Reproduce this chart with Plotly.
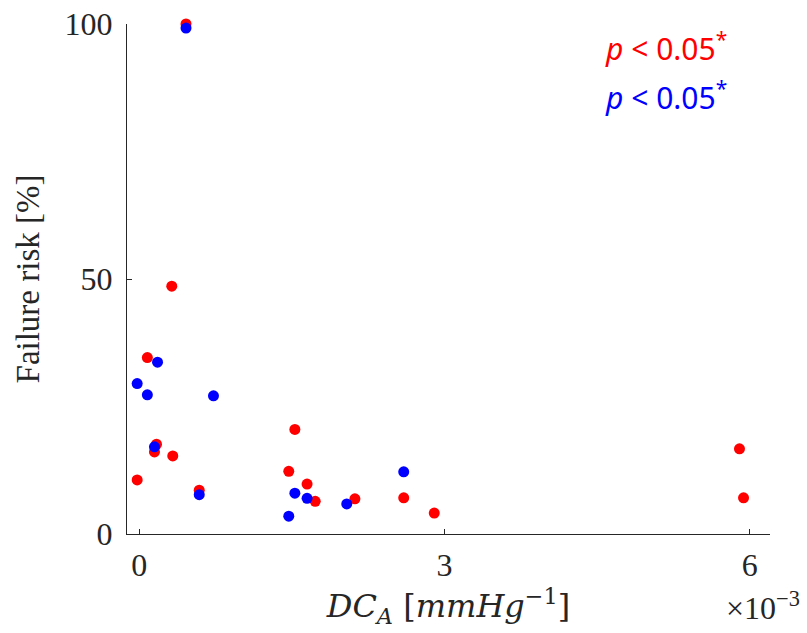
import plotly.graph_objects as go

# Values (x in units of 1e-3 mmHg^-1, y in %)
red_x = [0.46, 0.32, 0.08, 0.17, 0.15, 0.33, -0.02, 0.59, 1.53, 1.47, 1.65, 1.73, 2.12, 2.60, 2.90, 5.90, 5.94]
red_y = [100.0, 48.6, 34.6, 17.6, 16.1, 15.3, 10.6, 8.6, 20.5, 12.3, 9.8, 6.4, 6.9, 7.1, 4.1, 16.7, 7.1]

blue_x = [0.46, 0.18, -0.02, 0.08, 0.73, 0.15, 0.59, 1.53, 1.65, 1.47, 2.04, 2.60]
blue_y = [99.2, 33.7, 29.5, 27.3, 27.1, 17.1, 7.7, 8.0, 7.0, 3.5, 5.9, 12.2]

x_ticks = [0, 3, 6]
y_ticks = [0, 50, 100]
SCALE = 1e-3

serif = "Liberation Serif, DejaVu Serif, serif"
wide_serif = "DejaVu Serif, Liberation Serif, serif"
dark = "#262626"

fig = go.Figure()
fig.add_trace(go.Scatter(x=[v * SCALE for v in red_x], y=red_y, mode="markers",
                         marker=dict(color="#ff0000", size=11, line=dict(width=0)),
                         cliponaxis=False, showlegend=False))
fig.add_trace(go.Scatter(x=[v * SCALE for v in blue_x], y=blue_y, mode="markers",
                         marker=dict(color="#0000ff", size=11, line=dict(width=0)),
                         cliponaxis=False, showlegend=False))

axis_common = dict(showgrid=False, zeroline=False, showline=True, linecolor=dark,
                   linewidth=1.3, ticks="inside", ticklen=5, tickwidth=1.3, tickcolor=dark,
                   tickfont=dict(family=serif, size=32, color=dark), automargin=False,
                   ticklabeloverflow="allow")

fig.update_xaxes(range=[-0.12e-3, 6.2e-3], tickvals=[t * SCALE for t in x_ticks],
                 ticktext=[str(t) for t in x_ticks], ticklabelstandoff=2,
                 title=dict(text="<i>DC</i><sub><i>A</i></sub> [<i>mmHg</i><sup>−1</sup>]",
                            font=dict(family=wide_serif, size=32, color=dark), standoff=7),
                 **axis_common)
fig.update_yaxes(range=[0, 100], tickvals=y_ticks, ticktext=[str(t) for t in y_ticks],
                 ticklabelstandoff=7,
                 title=dict(text="Failure risk [%]", font=dict(family=serif, size=33, color=dark),
                            standoff=14),
                 **axis_common)

fig.add_annotation(xref="paper", yref="paper", x=1.05, y=-0.142, xanchor="right", yanchor="middle",
                   text="×10<sup>−3</sup>", showarrow=False,
                   font=dict(family=serif, size=32, color=dark))
fig.add_annotation(xref="paper", yref="paper", x=0.740, y=0.955, xanchor="left", yanchor="middle",
                   text="<i>p</i> < 0.05<sup>*</sup>", showarrow=False,
                   font=dict(family="Noto Sans, sans-serif", size=30, color="#ff0000"))
fig.add_annotation(xref="paper", yref="paper", x=0.740, y=0.859, xanchor="left", yanchor="middle",
                   text="<i>p</i> < 0.05<sup>*</sup>", showarrow=False,
                   font=dict(family="Noto Sans, sans-serif", size=30, color="#0000ff"))

fig.update_layout(width=807, height=633, margin=dict(l=127, r=37, t=24, b=99, autoexpand=False),
                  paper_bgcolor="white", plot_bgcolor="white")

# remove the default page margin so the figure sits at the window's top-left corner
fig.write_html("out.html", config={"displayModeBar": False},
               post_script="document.body.style.margin='0px';")
